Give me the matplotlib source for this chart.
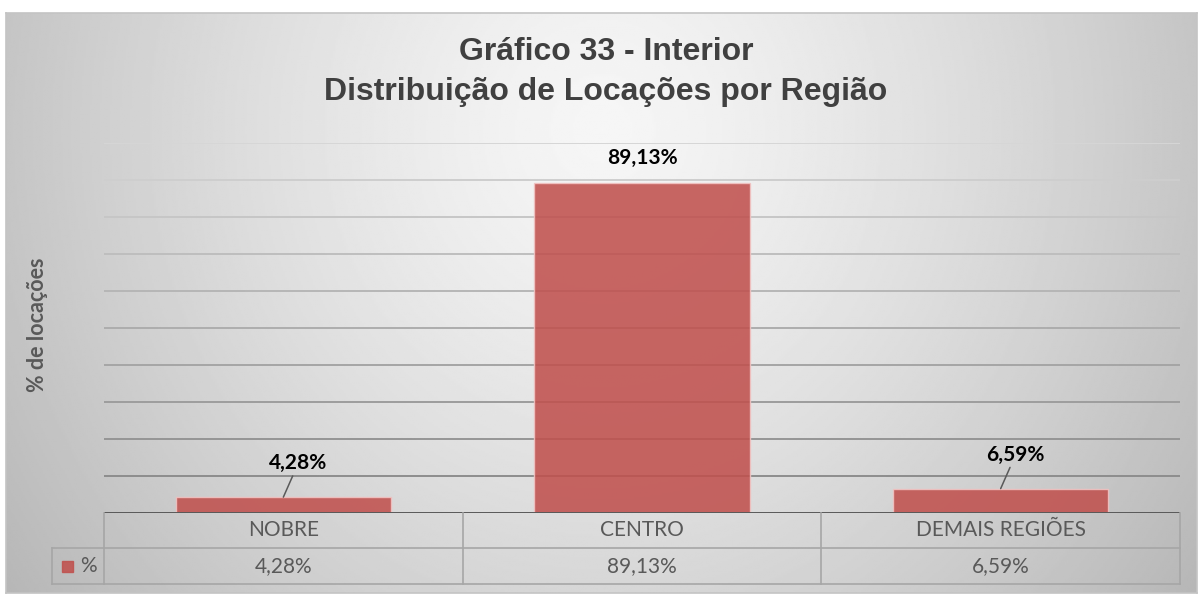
import matplotlib

matplotlib.use("Agg")
import matplotlib.pyplot as plt
import matplotlib.transforms as mtransforms
import numpy as np

# data
categories = ["NOBRE", "CENTRO", "DEMAIS REGIÕES"]
values = [4.28, 89.13, 6.59]
value_labels = ["4,28%", "89,13%", "6,59%"]
series_name = "%"
title = "Gráfico 33 - Interior\nDistribuição de Locações por Região"
ylabel = "% de locações"

W, H = 1199, 594
BAR = "#C0504D"
TXT = "#595959"


def fx(px):
    return px / W


def fy(py):
    return 1 - py / H


fig = plt.figure(figsize=(W / 100, H / 100), dpi=100)

# chart area background: soft radial gradient
bg = fig.add_axes([fx(6), fy(593), fx(1191), (593 - 13) / H])
yy, xx = np.mgrid[0:300, 0:600]
r = np.sqrt(((xx - 300) / 300.0) ** 2 + ((yy - 60) / 330.0) ** 2)
shade = np.clip(0.965 - 0.19 * r ** 1.3, 0, 1)
bg.imshow(shade, cmap="gray", vmin=0, vmax=1, aspect="auto", extent=(0, 1, 0, 1), origin="upper")
bg.set_xlim(0, 1)
bg.set_ylim(0, 1)
bg.set_xticks([])
bg.set_yticks([])
for s in bg.spines.values():
    s.set_color("#c4c4c4")
    s.set_linewidth(1.2)
bg.set_zorder(0)

ax = fig.add_axes([fx(104), fy(513), fx(1180 - 104), (513 - 143) / H])
ax.set_zorder(1)
ax.patch.set_visible(False)
x = np.arange(len(categories))
ax.set_xlim(-0.5, len(categories) - 0.5)
ax.set_ylim(0, 100)

# gridlines get darker toward the bottom
for g in range(10, 101, 10):
    c = 0.52 + 0.32 * (g / 100.0)
    ax.axhline(g, color=(c, c, c), lw=1.4, zorder=1)
ax.axhline(0, color="#595959", lw=1.4, zorder=3)

ax.bar(x, values, width=0.6, color=BAR, alpha=0.87, edgecolor="#F2C4C3", linewidth=1.0, zorder=2)

ax.set_xticks([])
ax.set_yticks([])
for s in ax.spines.values():
    s.set_visible(False)

# data labels (small bars get a leader line)
for xi, v, lab in zip(x, values, value_labels):
    if v < 20:
        ax.annotate(lab, xy=(xi, v), xytext=(15, 34), textcoords="offset pixels",
                    ha="center", va="center", fontsize=15, fontweight="bold",
                    family="Lato", color="black", zorder=4,
                    arrowprops=dict(arrowstyle="-", color="#595959", lw=1.1,
                                    shrinkA=0, shrinkB=0))
    else:
        ax.annotate(lab, xy=(xi, v), xytext=(0, 25), textcoords="offset pixels",
                    ha="center", va="center", fontsize=15, fontweight="bold",
                    family="Lato", color="black", zorder=4)

# data table below the axis
trans = mtransforms.blended_transform_factory(ax.transData, fig.transFigure)
row1_top, row1_bot, row2_bot = fy(513), fy(548), fy(584)
line_kw = dict(color="#a6a6a6", lw=1.2, transform=trans, clip_on=False, zorder=3)
edges = np.arange(len(categories) + 1) - 0.5
for e in edges:
    ax.plot([e, e], [row1_top, row2_bot], **line_kw)
ax.plot([edges[0], edges[-1]], [row1_bot, row1_bot], **line_kw)
ax.plot([edges[0], edges[-1]], [row2_bot, row2_bot], **line_kw)
fig.add_artist(plt.Line2D([fx(52), fx(104)], [row1_bot, row1_bot], color="#a6a6a6", lw=1.2))
fig.add_artist(plt.Line2D([fx(52), fx(104)], [row2_bot, row2_bot], color="#a6a6a6", lw=1.2))
fig.add_artist(plt.Line2D([fx(52), fx(52)], [row1_bot, row2_bot], color="#a6a6a6", lw=1.2))

for xi, cat, lab in zip(x, categories, value_labels):
    ax.text(xi, (row1_top + row1_bot) / 2, cat, transform=trans, ha="center", va="center",
            fontsize=15, family="Lato", color=TXT, clip_on=False)
    ax.text(xi, (row1_bot + row2_bot) / 2, lab, transform=trans, ha="center", va="center",
            fontsize=15, family="Lato", color=TXT, clip_on=False)

# legend key in table
fig.add_artist(plt.Rectangle((fx(62), fy(572)), fx(11), 11 / H, color=BAR, alpha=0.87,
                             transform=fig.transFigure))
fig.text(fx(88), (row1_bot + row2_bot) / 2, series_name, ha="center", va="center",
         fontsize=15, family="Lato", color=TXT)

fig.text(fx(606), fy(72), title, ha="center", va="center", fontsize=23, fontweight="bold",
         family="Liberation Sans", color="#404040", linespacing=1.42)
fig.text(fx(37), fy(325), ylabel, rotation=90, ha="center", va="center", fontsize=15.5,
         fontweight="bold", family="Lato", color=TXT)

fig.savefig("out.png", dpi=100, facecolor="white")
